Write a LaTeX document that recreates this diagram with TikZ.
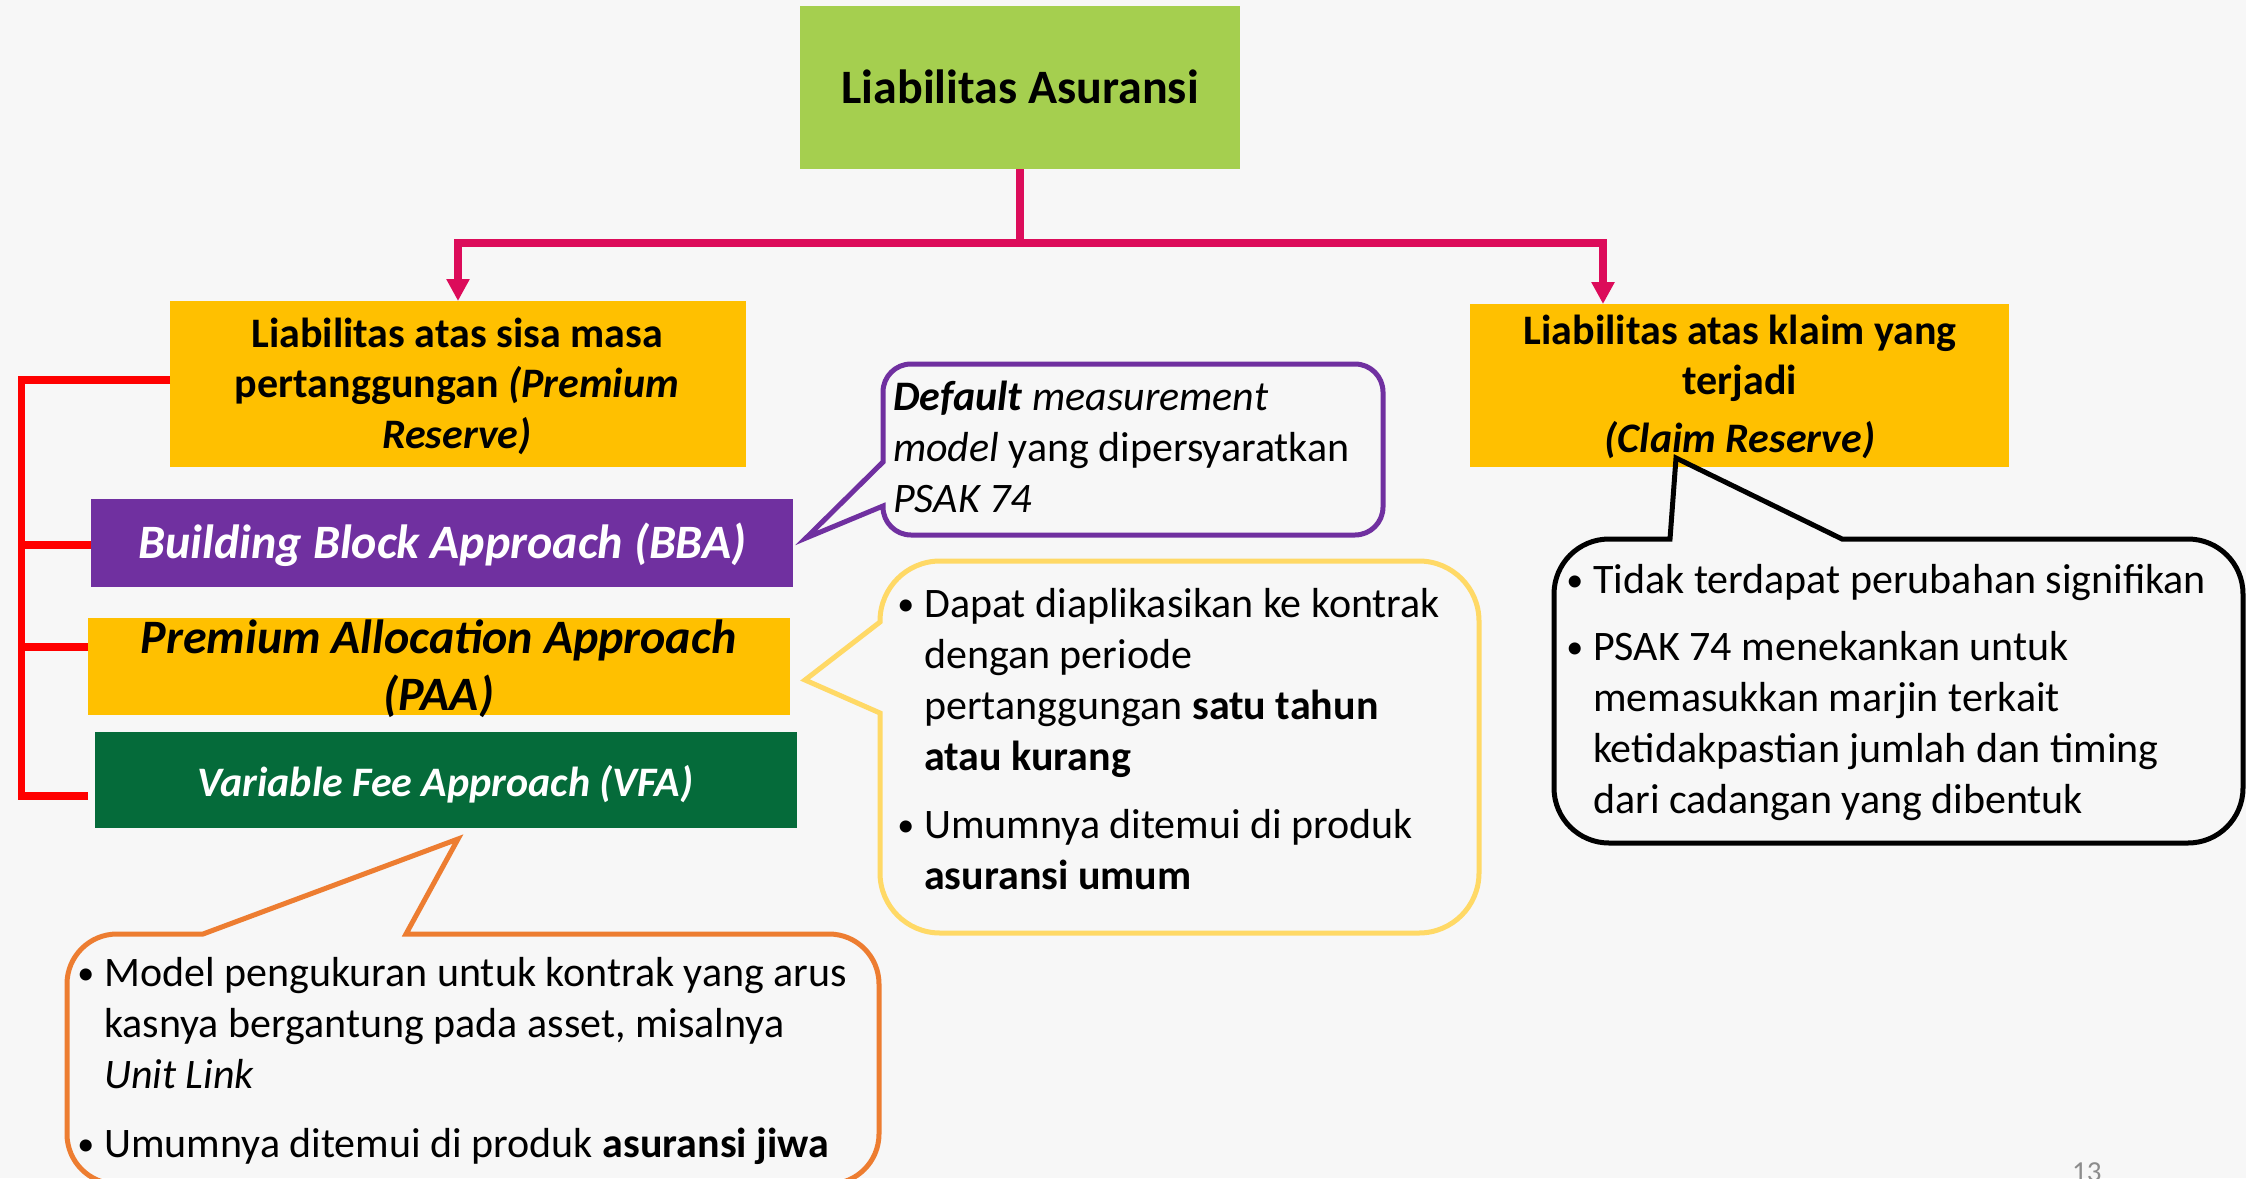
\documentclass[tikz,border=0pt]{standalone}
\usepackage{fontspec}
\setmainfont{Carlito}
\usetikzlibrary{arrows.meta}
\definecolor{bg}{HTML}{F7F7F7}
\definecolor{topgreen}{HTML}{A5CF4F}
\definecolor{magc}{HTML}{DC0C5A}
\definecolor{gold}{HTML}{FFC000}
\definecolor{bbapurple}{HTML}{7030A0}
\definecolor{vfagreen}{HTML}{056B3A}
\definecolor{callgold}{HTML}{FFD966}
\definecolor{callorange}{HTML}{ED7D31}
\definecolor{pagegray}{HTML}{8C8C8C}
\newcommand\mybul{\llap{{\fontsize{34}{34}\selectfont\raisebox{2pt}{\textbullet}}\hspace{10pt}}}
\begin{document}
\begin{tikzpicture}[x=1pt,y=-1pt,
  boxnode/.style={inner sep=0, outer sep=0, draw=none},
  ttl/.style={inner sep=0, align=center, font=\bfseries\fontsize{42}{50.5}\selectfont},
  body/.style={inner sep=0, align=left, font=\fontsize{42}{51}\selectfont},
  magl/.style={draw=magc, line width=7.5},
  redl/.style={draw=red, line width=7.5},
  callout/.style={line width=5},
]
\useasboundingbox (0,0) rectangle (2246,1178);
\fill[bg] (0,0) rectangle (2246,1178);

% boxes
\node[boxnode, fill=topgreen, minimum width=440, minimum height=163] (top) at (1020,87.5) {};
\node[boxnode, fill=gold, minimum width=576, minimum height=166] (lyel) at (458,384) {};
\node[boxnode, fill=gold, minimum width=539, minimum height=163] (ryel) at (1739.5,385.5) {};
\node[boxnode, fill=bbapurple, minimum width=702, minimum height=88] (bba) at (442,543) {};
\node[boxnode, fill=gold, minimum width=702, minimum height=97] (paa) at (439,666.5) {};
\node[boxnode, fill=vfagreen, minimum width=702, minimum height=96] (vfa) at (446,780) {};

% box texts (multi-line nodes: base = baseline of last line)
\node[ttl, font=\bfseries\fontsize{48}{58}\selectfont, anchor=base] (topt) at (1020,103) {Liabilitas Asuransi};
\node[ttl, anchor=base] (lyelt) at (457,448) {Liabilitas atas sisa masa\\pertanggungan \textit{(Premium}\\\textit{Reserve)}};
\node[ttl, anchor=base] (ryelt) at (1740,452) {Liabilitas atas klaim yang\\terjadi\\[7pt]\textit{(Claim Reserve)}};
\node[ttl, text=white, font=\bfseries\itshape\fontsize{48}{57}\selectfont, anchor=base] (bbat) at (442.5,558) {Building Block Approach (BBA)};
\node[ttl, font=\bfseries\itshape\fontsize{48}{57}\selectfont, anchor=base] (paat) at (438.5,710) {Premium Allocation Approach\\(PAA)};
\node[ttl, text=white, font=\bfseries\itshape\fontsize{42}{50}\selectfont, anchor=base] (vfat) at (445.5,796) {Variable Fee Approach (VFA)};

% magenta tree
\coordinate (jn) at (1020,243);
\coordinate (rx) at (1603,0);
\draw[magl] (top.south) -- (jn);
\draw[magl, -{Triangle[width=22pt,length=22pt]}] (jn) -| (lyel.north);
\draw[magl, -{Triangle[width=22pt,length=22pt]}] (jn) -| (ryel.north -| rx);

% red bracket
\draw[redl] (lyel.west |- 0,380) -- (21.5,380) -- (21.5,796) -- (paa.west |- 0,796);
\draw[redl] (18,545) -- (bba.west |- 0,545);
\draw[redl] (18,647) -- (paa.west |- 0,647);

% callout texts
\node[body, anchor=base west] (ptxt) at (893,512) {\textbf{\textit{Default}} \textit{measurement}\\\textit{model} yang dipersyaratkan\\\textit{PSAK 74}};
\node[body, anchor=base west] (ytxt) at (924,889) {\mybul Dapat diaplikasikan ke kontrak\\dengan periode\\pertanggungan \textbf{satu tahun}\\\textbf{atau kurang}\\[17pt]\mybul Umumnya ditemui di produk\\\textbf{asuransi umum}};
\node[body, anchor=base west] (btxt) at (1593,813) {\mybul Tidak terdapat perubahan signifikan\\[16pt]\mybul PSAK 74 menekankan untuk\\memasukkan marjin terkait\\ketidakpastian jumlah dan timing\\dari cadangan yang dibentuk};
\node[body, anchor=base west] (otxt) at (104,1157) {\mybul Model pengukuran untuk kontrak yang arus\\kasnya bergantung pada asset, misalnya\\\textit{Unit Link}\\[18pt]\mybul Umumnya ditemui di produk \textbf{asuransi jiwa}};

% callout shapes
\draw[callout, draw=bbapurple] (883,462) -- (806,538) -- (883,506) [rounded corners=28] -- (883,535) -- (1383,535) -- (1383,364) -- (883,364) [sharp corners] -- cycle;
\draw[callout, draw=callgold] (880,622) -- (805,680) -- (880,713) [rounded corners=60] -- (880,933) -- (1479,933) -- (1479,561) -- (880,561) [sharp corners] -- cycle;
\draw[callout, draw=black] (1842,539) -- (1676,458) -- (1670,539) [rounded corners=55] -- (1554,539) -- (1554,843) -- (2243,843) -- (2243,539) [sharp corners] -- cycle;
\draw[callout, draw=callorange] (406,934) -- (458,839) -- (203,934) [rounded corners=50] -- (67,934) -- (67,1184) -- (879,1184) -- (879,934) [sharp corners] -- cycle;

% page number
\node[inner sep=0, anchor=base west, text=pagegray, font=\fontsize{29}{35}\selectfont] (pg) at (2072,1181) {13};
\end{tikzpicture}
\end{document}
